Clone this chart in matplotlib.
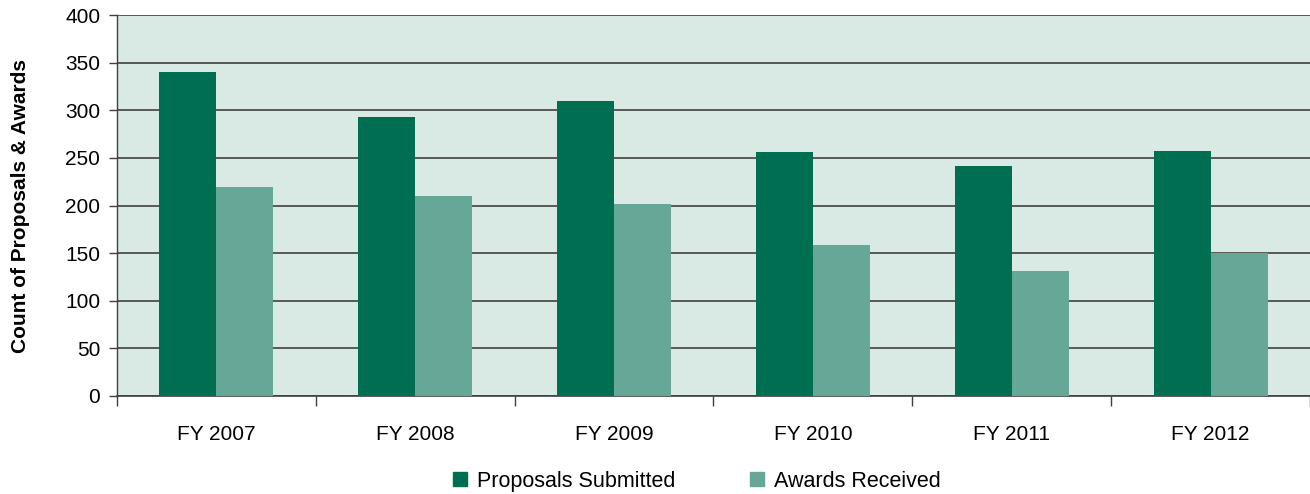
import numpy as np
import matplotlib.pyplot as plt
from matplotlib.patches import Patch

plt.rcParams['font.family'] = ['Liberation Sans', 'DejaVu Sans']

years = ['FY 2007', 'FY 2008', 'FY 2009', 'FY 2010', 'FY 2011', 'FY 2012']
proposals = [340, 293, 310, 256, 242, 257]
awards = [219, 210, 202, 159, 131, 150]

c_prop = '#006E50'
c_award = '#66A898'

fig = plt.figure(figsize=(13.1, 4.94), dpi=100)
ax = fig.add_axes([0.0893, 0.1984, 0.9107, 0.7712])
ax.set_facecolor('#D9EAE4')

x = np.arange(len(years))
w = 0.287
ax.bar(x - w / 2, proposals, w, color=c_prop, zorder=3)
ax.bar(x + w / 2, awards, w, color=c_award, zorder=3)

ax.set_xlim(-0.5, len(years) - 0.5)
ax.set_ylim(0, 400)
ax.set_yticks(range(0, 401, 50))
ax.grid(axis='y', color='#404040', linewidth=1.2, zorder=1)

ax.set_xticks(x)
ax.set_xticklabels(years, fontsize=15)
ax.set_xticks(np.arange(-0.5, len(years)), minor=True)
ax.tick_params(axis='x', which='major', length=0, pad=21)
ax.tick_params(axis='x', which='minor', length=7, width=1, color='#404040')
ax.tick_params(axis='y', labelsize=15, length=6, width=1, color='#404040', pad=6)

for s in ['top', 'right']:
    ax.spines[s].set_visible(False)
ax.spines['left'].set_color('#404040')
ax.spines['bottom'].set_color('#404040')
ax.spines['left'].set_linewidth(1)
ax.spines['bottom'].set_linewidth(1.2)

ax.set_ylabel('Count of Proposals & Awards', fontsize=15, fontweight='bold')
ax.yaxis.set_label_coords(-0.0725, 0.5)

handles = [Patch(color=c_prop, label='Proposals Submitted'),
           Patch(color=c_award, label='Awards Received')]
fig.legend(handles=handles, loc='center', bbox_to_anchor=(0.532, 0.026), ncol=2,
           frameon=False, fontsize=15.5, handlelength=0.64, handleheight=0.64,
           columnspacing=3.5, handletextpad=0.45)

fig.savefig('out.png', dpi=100)
